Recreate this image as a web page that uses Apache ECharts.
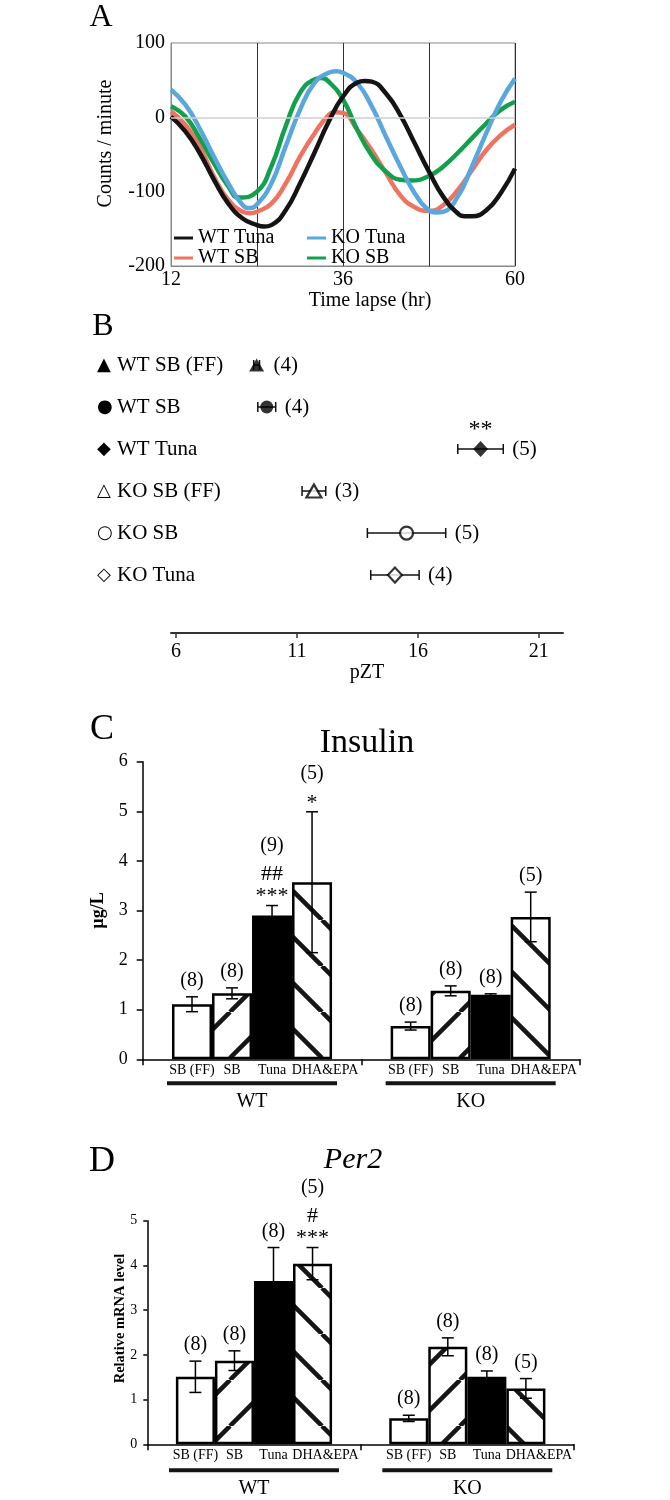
<!DOCTYPE html>
<html><head><meta charset="utf-8">
<script src="https://cdn.jsdelivr.net/npm/echarts@6/dist/echarts.min.js"></script>
<style>html,body{margin:0;padding:0;background:#fff}#c{width:670px;height:1500px}</style>
</head><body><div id="c"></div>
<script>
// ---------- Panel A: activity rhythms (hours, counts/minute) ----------
const wtTunaHours = [12,14,16,18,20,22,24,25,26,28,30,32,34,36,38,39,40,42,44,46,48,50,52,53,54,56,58,60];
const wtTuna      = [1,-19,-48,-84,-116,-136,-145,-147,-145,-125,-89,-48,-6,28,47,49,48,32,3,-35,-73,-107,-129,-133,-133,-125,-102,-69];
const wtSBHours   = [12,14,16,18,20,22,23,24,26,28,30,32,34,35,36,38,40,42,44,46,48,50,52,54,56,58,60];
const wtSB        = [8,-10,-39,-80,-111,-127,-129,-127,-116,-89,-53,-22,3,7,6,-17,-44,-75,-105,-121,-126,-118,-98,-71,-44,-24,-10];
const koTunaHours = [12,14,16,18,20,22,23,24,26,28,30,32,34,35,36,38,40,42,44,46,48,49,50,52,54,56,58,60];
const koTuna      = [37,17,-15,-53,-89,-118,-122,-117,-89,-39,10,46,60,62,60,46,15,-26,-66,-102,-125,-128,-127,-107,-66,-21,21,52];
const koSBHours   = [12,14,16,18,20,21.5,24,26,28,30,32,33,34,36,38,40,42,44,45.5,48,50,52,54,56,58,60];
const koSB        = [15,1,-28,-62,-93,-108,-100,-66,-12,33,51,53,48,24,-17,-51,-73,-84,-85,-79,-66,-48,-28,-8,10,21];
const hourTicksShown = [12,36,60];

// ---------- Panel B: peak phase ----------
const pztGroups = ['WT SB (FF)','WT SB','WT Tuna','KO SB (FF)','KO SB','KO Tuna'];
const pztMean = [9.33, 9.75, 18.59, 11.70, 15.53, 15.05];
const pztSem  = [0.12, 0.37, 0.94, 0.49, 1.62, 1.00];
const pztN    = ['(4)','(4)','(5)','(3)','(5)','(4)'];
const pztSig  = ['','','**','','',''];
const pztTicks = [6,11,16,21];

// ---------- Panel C: insulin ----------
const genotypes = ['WT','KO'];
const diets = ['SB (FF)','SB','Tuna','DHA&EPA'];
const insulinWT = [1.11, 1.33, 2.90, 3.57];
const insulinKO = [0.67, 1.38, 1.30, 2.87];
const insulinErrWT = [0.15, 0.11, 0.20, 1.42];
const insulinErrKO = [0.08, 0.10, 0.02, 0.50];
const insulinNWT = ['(8)','(8)','(9)','(5)'];
const insulinNKO = ['(8)','(8)','(8)','(5)'];
const insulinSigWT = ['','','##\n***','*'];
const insulinSigKO = ['','','',''];

// ---------- Panel D: Per2 ----------
const per2WT = [1.51, 1.87, 3.65, 4.04];
const per2KO = [0.58, 2.18, 1.51, 1.25];
const per2ErrWT = [0.35, 0.22, 0.75, 0.36];
const per2ErrKO = [0.07, 0.20, 0.13, 0.22];
const per2NWT = ['(8)','(8)','(8)','(5)'];
const per2NKO = ['(8)','(8)','(8)','(5)'];
const per2SigWT = ['','','','#\n***'];
const per2SigKO = ['','','',''];

// ---------- styles ----------
const SERIF = "'Liberation Serif','Times New Roman',serif";
const lineColors = {'WT Tuna':'#141414','WT SB':'#EE7461','KO Tuna':'#5AA7DE','KO SB':'#13A04D'};
const pztMarkers = ['▲','●','◆','△','○','◇'];
const pztSymbols = ['triangle','circle','diamond','triangle','circle','diamond'];
const pztFilled  = [true,true,true,false,false,false];
const pztSizes   = [[15,13],13,[15,16],[15,13],13,[14,15]];
const BAR_FRAC = 0.183;

function hatch(dir){
  const T = 46;
  const c = document.createElement('canvas');
  c.width = T; c.height = T;
  const g = c.getContext('2d');
  g.fillStyle = '#fff'; g.fillRect(0,0,T,T);
  g.strokeStyle = '#161616'; g.lineWidth = 4.5;
  g.beginPath();
  for (let k=-1;k<=1;k++){
    if (dir === '/') { g.moveTo(k*T, T); g.lineTo(k*T+T, 0); }
    else { g.moveTo(k*T, 0); g.lineTo(k*T+T, T); }
  }
  g.stroke();
  return c;
}
const barFills = ['#fff', {image: hatch('/'), repeat:'repeat'}, '#000', {image: hatch('\\'), repeat:'repeat'}];

const chart = echarts.init(document.getElementById('c'), null, {renderer:'canvas'});

// ----- panel A series -----
function lineSeries(name, hrs, arr){
  return {
    type:'line', name, xAxisIndex:0, yAxisIndex:0,
    data: hrs.map((h,i)=>[h, arr[i]]),
    smooth:0.5, showSymbol:false, symbol:'none',
    color: lineColors[name],
    lineStyle:{width:4.5, color: lineColors[name]},
    z:3
  };
}
const seriesA = [
  Object.assign(lineSeries('WT SB', wtSBHours, wtSB), {
    markLine:{silent:true, symbol:'none', label:{show:false},
      lineStyle:{color:'#cfcfcf', width:1.5, type:'solid'}, data:[{yAxis:0}]}
  }),
  lineSeries('KO SB', koSBHours, koSB),
  lineSeries('KO Tuna', koTunaHours, koTuna),
  lineSeries('WT Tuna', wtTunaHours, wtTuna)
];

// ----- panel B series -----
const seriesB = [
  {
    type:'custom', xAxisIndex:1, yAxisIndex:1, z:3, clip:false,
    data: pztMean.map((m,i)=>[m, i, pztSem[i]]),
    encode:{x:0, y:1},
    renderItem(params, api){
      const i = params.dataIndex;
      const m = pztMean[i], s = pztSem[i];
      const p1 = api.coord([m - s, i]);
      const p2 = api.coord([m + s, i]);
      const pc = api.coord([m, i]);
      const ls = {stroke:'#111', lineWidth:1.5};
      const ch = [
        {type:'line', shape:{x1:p1[0],y1:p1[1],x2:p2[0],y2:p2[1]}, style:ls},
        {type:'line', shape:{x1:p1[0],y1:p1[1]-5,x2:p1[0],y2:p1[1]+5}, style:ls},
        {type:'line', shape:{x1:p2[0],y1:p2[1]-5,x2:p2[0],y2:p2[1]+5}, style:ls},
        {type:'text', style:{text:pztN[i], x:Math.max(p2[0], pc[0]+8)+9, y:pc[1],
          align:'left', verticalAlign:'middle', fontSize:21, fontFamily:SERIF, fill:'#000'}}
      ];
      if (pztSig[i]) ch.push({type:'text', style:{text:pztSig[i], x:pc[0], y:pc[1]-19,
          align:'center', verticalAlign:'middle', fontSize:24, fontFamily:SERIF, fill:'#000'}});
      return {type:'group', children:ch};
    }
  },
  {
    type:'scatter', xAxisIndex:1, yAxisIndex:1, z:4,
    data: pztMean.map((m,i)=>({
      value:[m, i], symbol: pztSymbols[i], symbolSize: pztSizes[i],
      itemStyle:{color: pztFilled[i] ? '#000' : '#fff', borderColor:'#000', borderWidth: pztFilled[i] ? 0 : 2.2}
    }))
  }
];

// ----- bar panels -----
function barPanel(ax, wt, ko, errWT, errKO, nWT, nKO, sigWT, sigKO){
  const out = [];
  diets.forEach((d, i)=>{
    out.push({
      type:'bar', name:d, xAxisIndex:ax, yAxisIndex:ax,
      data:[wt[i], ko[i]], barWidth:(BAR_FRAC*100)+'%', barGap:'0%',
      itemStyle:{color: barFills[i], borderColor:'#000', borderWidth:2.5},
      label:{show:true, position:'bottom', distance:4, formatter:d, fontSize:14,
        fontFamily:SERIF, color:'#000', offset: i===3 ? [13,0] : [0,0]},
      z:2
    });
  });
  const items = [];
  [0,1].forEach(cat=>{
    diets.forEach((d, i)=>{
      items.push({cat, d:i,
        v: cat===0 ? wt[i] : ko[i],
        e: cat===0 ? errWT[i] : errKO[i],
        n: cat===0 ? nWT[i] : nKO[i],
        sig: cat===0 ? sigWT[i] : sigKO[i]});
    });
  });
  out.push({
    type:'custom', xAxisIndex:ax, yAxisIndex:ax, z:5, clip:false,
    data: items.map(it=>[it.cat, it.v + it.e]),
    encode:{x:0, y:1},
    renderItem(params, api){
      const it = items[params.dataIndex];
      const bw = api.size([1,0])[0] * BAR_FRAC;
      const cx = api.coord([it.cat, 0])[0] + (it.d - 1.5) * bw;
      const yt = api.coord([it.cat, it.v + it.e])[1];
      const yb = api.coord([it.cat, it.v - it.e])[1];
      const ls = {stroke:'#000', lineWidth:1.5};
      const ch = [
        {type:'line', shape:{x1:cx,y1:yt,x2:cx,y2:yb}, style:ls},
        {type:'line', shape:{x1:cx-6,y1:yt,x2:cx+6,y2:yt}, style:ls},
        {type:'line', shape:{x1:cx-6,y1:yb,x2:cx+6,y2:yb}, style:ls}
      ];
      const ns = it.sig ? it.sig.split('\n').length : 0;
      if (ns) ch.push({type:'text', style:{text:it.sig, x:cx, y:yt+2, align:'center',
        verticalAlign:'bottom', fontSize:22, lineHeight:22, fontFamily:SERIF, fill:'#000'}});
      ch.push({type:'text', style:{text:it.n, x:cx, y:yt + 2 - 22*ns - 8, align:'center',
        verticalAlign:'bottom', fontSize:20, fontFamily:SERIF, fill:'#000'}});
      return {type:'group', children:ch};
    }
  });
  return out;
}

function groupAxis(grid, margin){
  return {
    gridIndex:grid, type:'category', data:genotypes,
    axisLine:{show:true, onZero:false, lineStyle:{color:'#000', width:1.5}},
    axisTick:{show:true, length:6, lineStyle:{color:'#000', width:1.5}},
    splitLine:{show:false},
    axisLabel:{interval:0, margin, formatter: v => '{u| }\n{n|' + v + '}',
      rich:{
        u:{width:170, height:4, lineHeight:4, fontSize:4, backgroundColor:'#141414'},
        n:{fontSize:20, fontFamily:SERIF, color:'#000', lineHeight:32}
      }}
  };
}

const titleStyle = (size, extra) => Object.assign({fontSize:size, fontWeight:'normal', fontFamily:SERIF, color:'#000'}, extra||{});
function T(text, x, y, size, extra){
  return {text, left:x, top:y, textAlign:'center', textVerticalAlign:'middle', padding:0,
    textStyle:titleStyle(size, extra)};
}

const legendCommon = {orient:'vertical', itemGap:0, itemWidth:19, itemHeight:3, icon:'rect',
  padding:0, textStyle:{fontSize:20, fontFamily:SERIF, color:'#000', lineHeight:17}};

const option = {
  animation:false,
  backgroundColor:'#fff',
  title:[
    T('A', 101, 18, 32), T('B', 103, 327, 32), T('C', 102, 730, 36), T('D', 102, 1162, 36),
    T('Insulin', 367, 743, 34), T('Per2', 353, 1160, 30, {fontStyle:'italic'})
  ],
  legend:[
    Object.assign({}, legendCommon, {data:['WT Tuna','WT SB'], left:174, top:228}),
    Object.assign({}, legendCommon, {data:['KO Tuna','KO SB'], left:307, top:228})
  ],
  grid:[
    {left:171, top:43, width:344, height:223, show:true, borderColor:'#888', borderWidth:1},
    {left:171, top:323, width:392, height:310},
    {left:142.7, top:761.7, width:437.3, height:297.6},
    {left:147.3, top:1220.7, width:426.7, height:223.6}
  ],
  xAxis:[
    {gridIndex:0, type:'value', min:12, max:60, interval:12,
      axisLine:{show:true, onZero:false, lineStyle:{color:'#888', width:1}}, axisTick:{show:false},
      splitLine:{show:true, lineStyle:{color:'#333', width:1}},
      axisLabel:{formatter: v => hourTicksShown.includes(v) ? String(v) : '', fontSize:20,
        fontFamily:SERIF, color:'#000', margin:4},
      name:'Time lapse (hr)', nameLocation:'middle', nameGap:22,
      nameTextStyle:{fontSize:20, fontFamily:SERIF, color:'#000', padding:[0,0,0,54]}},
    {gridIndex:1, type:'value', min:5.79, max:22,
      axisLine:{show:true, onZero:false, lineStyle:{color:'#333', width:2}},
      axisTick:{show:true, customValues:pztTicks, length:5, lineStyle:{color:'#333', width:1.5}},
      axisLabel:{customValues:pztTicks, fontSize:20, fontFamily:SERIF, color:'#000', margin:9},
      splitLine:{show:false},
      name:'pZT', nameLocation:'middle', nameGap:28,
      nameTextStyle:{fontSize:20, fontFamily:SERIF, color:'#000'}},
    groupAxis(2, 22),
    groupAxis(3, 24)
  ],
  yAxis:[
    {gridIndex:0, type:'value', min:-200, max:100, interval:100,
      axisLine:{show:true, onZero:false, lineStyle:{color:'#888', width:1}}, axisTick:{show:false},
      splitLine:{show:false},
      axisLabel:{fontSize:20, fontFamily:SERIF, color:'#000', margin:6},
      name:'Counts / minute', nameLocation:'middle', nameGap:55,
      nameTextStyle:{fontSize:20, fontFamily:SERIF, color:'#000', padding:[0,0,0,22]}},
    {gridIndex:1, type:'value', inverse:true, min:-1, max:6.38, interval:1,
      axisLine:{show:false, onZero:false}, axisTick:{show:false}, splitLine:{show:false},
      axisLabel:{margin:74, align:'left',
        formatter: v => {
          const r = Math.round(v);
          if (Math.abs(v - r) > 1e-6 || r < 0 || r >= pztGroups.length) return '';
          return '{m|' + pztMarkers[r] + '}{t|' + pztGroups[r] + '}';
        },
        rich:{
          m:{fontFamily:"'DejaVu Sans',sans-serif", fontSize:18, color:'#000', width:20},
          t:{fontFamily:SERIF, fontSize:21, color:'#000'}
        }}},
    {gridIndex:2, type:'value', min:0, max:6, interval:1,
      axisLine:{show:true, onZero:false, lineStyle:{color:'#000', width:1.5}},
      axisTick:{show:true, length:6, lineStyle:{color:'#000', width:1.5}},
      splitLine:{show:false},
      axisLabel:{fontSize:18, fontFamily:SERIF, color:'#000', margin:15},
      name:'µg/L', nameLocation:'middle', nameGap:35, nameMoveOverlap:false,
      nameTextStyle:{fontSize:18, fontWeight:'bold', fontFamily:SERIF, color:'#000'}},
    {gridIndex:3, type:'value', min:0, max:5, interval:1,
      axisLine:{show:true, onZero:false, lineStyle:{color:'#000', width:1.5}},
      axisTick:{show:true, length:4, lineStyle:{color:'#000', width:1.5}},
      splitLine:{show:false},
      axisLabel:{fontSize:14, fontFamily:SERIF, color:'#000', margin:10},
      name:'Relative mRNA level', nameLocation:'middle', nameGap:20, nameMoveOverlap:false,
      nameTextStyle:{fontSize:14.5, fontWeight:'bold', fontFamily:SERIF, color:'#000', padding:[0,0,0,28]}}
  ],
  series: [].concat(
    seriesA,
    seriesB,
    barPanel(2, insulinWT, insulinKO, insulinErrWT, insulinErrKO, insulinNWT, insulinNKO, insulinSigWT, insulinSigKO),
    barPanel(3, per2WT, per2KO, per2ErrWT, per2ErrKO, per2NWT, per2NKO, per2SigWT, per2SigKO)
  )
};
chart.setOption(option);
</script>
</body></html>
